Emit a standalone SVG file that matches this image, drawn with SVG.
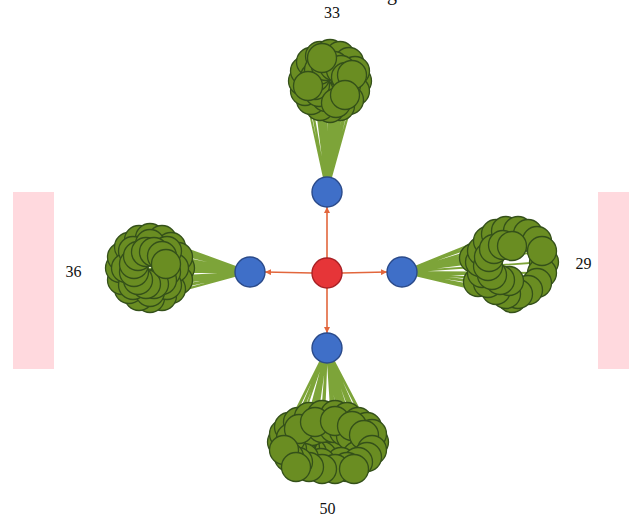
<svg xmlns="http://www.w3.org/2000/svg" xmlns:xlink="http://www.w3.org/1999/xlink" width="629" height="518" viewBox="0 0 629 518">
<style>
.lbl{font-family:"Liberation Serif","Times New Roman",serif;font-size:16px;fill:#111;text-anchor:middle}
.band{fill:#ffd9de}
.ge{fill:none;stroke:#6f9a24;stroke-width:1.8;stroke-opacity:.9}
.re{stroke:#e2663c;stroke-width:1.6;fill:none}
.blue{fill:#3f6fc8;stroke:#2a4a8a;stroke-width:1.4}
.red{fill:#e63538;stroke:#a82024;stroke-width:1.4}
.leaf use{fill:#6a8d22;stroke:#34501a;stroke-width:1.3}
</style>
<defs>
<circle id="lf" r="14.5"/>
<marker id="ah" markerWidth="6" markerHeight="6" refX="6" refY="3" orient="auto" markerUnits="userSpaceOnUse">
<path d="M0,0L6,3L0,6z" fill="#e2663c"/>
</marker>
</defs>
<rect width="629" height="518" fill="#fff"/>
<text class="lbl" x="392" y="0" style="font-size:20px">g</text>
<rect class="band" x="13" y="192" width="41" height="177"/>
<rect class="band" x="598" y="192" width="31" height="177"/>
<g id="connectors">
<path class="ge" d="M327 192L357 81M327 192L355 91M327 192L349 100M327 192L340 106M327 192L330 108M327 192L320 106M327 192L311 100M327 192L305 91M327 192L303 81M327 192L305 71M327 192L311 62M327 192L320 56M327 192L330 54M327 192L340 56M327 192L349 62M327 192L355 71M327 192L346 85M327 192L341 92M327 192L334 97M327 192L326 97M327 192L319 92M327 192L315 85M327 192L315 77M327 192L319 70M327 192L326 66M327 192L334 66M327 192L341 70M327 192L346 77M327 192L352 75M327 192L308 86M327 192L336 103M327 192L322 58M327 192L345 95"/>
<path class="ge" d="M250 272L180 268M250 272L178 280M250 272L171 289M250 272L162 296M250 272L150 298M250 272L139 296M250 272L129 289M250 272L122 280M250 272L120 268M250 272L122 257M250 272L129 247M250 272L139 240M250 272L150 238M250 272L162 240M250 272L171 247M250 272L178 257M250 272L166 272M250 272L162 280M250 272L154 284M250 272L146 284M250 272L138 280M250 272L134 272M250 272L134 264M250 272L138 256M250 272L146 252M250 272L154 252M250 272L162 256M250 272L166 264M250 272L174 268M250 272L167 285M250 272L150 292M250 272L133 285M250 272L126 268M250 272L133 251M250 272L150 244M250 272L167 251"/>
<path class="ge" d="M402 272L544 262M402 272L542 273M402 272L537 283M402 272L528 290M402 272L518 294M402 272L506 294M402 272L496 290M402 272L488 283M402 272L482 273M402 272L480 262M402 272L482 251M402 272L488 241M402 272L496 234M402 272L506 231M402 272L518 231M402 272L528 234M402 272L537 241M402 272L542 251M402 272L509 281M402 272L500 280M402 272L492 275M402 272L488 266M402 272L489 257M402 272L494 249M402 272L503 245M402 272L512 246M402 272L474 258M402 272L478 282M402 272L512 298"/>
<path class="ge" d="M327 348L374 442M327 348L372 450M327 348L367 457M327 348L358 462M327 348L347 467M327 348L335 469M327 348L322 469M327 348L309 467M327 348L298 462M327 348L289 457M327 348L284 450M327 348L282 442M327 348L284 434M327 348L289 427M327 348L298 422M327 348L309 417M327 348L322 415M327 348L335 415M327 348L347 417M327 348L358 422M327 348L367 427M327 348L372 434M327 348L354 442M327 348L351 448M327 348L344 453M327 348L334 456M327 348L322 456M327 348L312 453M327 348L305 448M327 348L302 442M327 348L305 436M327 348L312 431M327 348L322 428M327 348L334 428M327 348L344 431M327 348L351 436M327 348L365 446M327 348L357 456M327 348L341 462M327 348L321 463M327 348L304 458M327 348L292 449M327 348L291 438M327 348L299 429M327 348L315 422M327 348L335 421M327 348L352 426M327 348L364 435M327 348L296 467M327 348L354 469"/>
<line class="re" x1="327" y1="258" x2="327" y2="207" marker-end="url(#ah)"/>
<line class="re" x1="312" y1="273" x2="265" y2="272" marker-end="url(#ah)"/>
<line class="re" x1="342" y1="273" x2="387" y2="272" marker-end="url(#ah)"/>
<line class="re" x1="327" y1="288" x2="327" y2="333" marker-end="url(#ah)"/>
</g>
<g id="cluster33" class="leaf">
<use href="#lf" x="357" y="81"/><use href="#lf" x="355" y="91"/><use href="#lf" x="349" y="100"/><use href="#lf" x="340" y="106"/><use href="#lf" x="330" y="108"/><use href="#lf" x="320" y="106"/><use href="#lf" x="311" y="100"/><use href="#lf" x="305" y="91"/><use href="#lf" x="303" y="81"/><use href="#lf" x="305" y="71"/><use href="#lf" x="311" y="62"/><use href="#lf" x="320" y="56"/><use href="#lf" x="330" y="54"/><use href="#lf" x="340" y="56"/><use href="#lf" x="349" y="62"/><use href="#lf" x="355" y="71"/>
<use href="#lf" x="346" y="85"/><use href="#lf" x="341" y="92"/><use href="#lf" x="334" y="97"/><use href="#lf" x="326" y="97"/><use href="#lf" x="319" y="92"/><use href="#lf" x="315" y="85"/><use href="#lf" x="315" y="77"/><use href="#lf" x="319" y="70"/><use href="#lf" x="326" y="66"/><use href="#lf" x="334" y="66"/><use href="#lf" x="341" y="70"/><use href="#lf" x="346" y="77"/>
<use href="#lf" x="352" y="75"/><use href="#lf" x="308" y="86"/><use href="#lf" x="336" y="103"/><use href="#lf" x="322" y="58"/><use href="#lf" x="345" y="95"/>
</g>
<g id="cluster36" class="leaf">
<use href="#lf" x="180" y="268"/><use href="#lf" x="178" y="280"/><use href="#lf" x="171" y="289"/><use href="#lf" x="162" y="296"/><use href="#lf" x="150" y="298"/><use href="#lf" x="139" y="296"/><use href="#lf" x="129" y="289"/><use href="#lf" x="122" y="280"/><use href="#lf" x="120" y="268"/><use href="#lf" x="122" y="257"/><use href="#lf" x="129" y="247"/><use href="#lf" x="139" y="240"/><use href="#lf" x="150" y="238"/><use href="#lf" x="162" y="240"/><use href="#lf" x="171" y="247"/><use href="#lf" x="178" y="257"/>
<use href="#lf" x="174" y="268"/><use href="#lf" x="167" y="285"/><use href="#lf" x="150" y="292"/><use href="#lf" x="133" y="285"/><use href="#lf" x="126" y="268"/><use href="#lf" x="133" y="251"/><use href="#lf" x="150" y="244"/><use href="#lf" x="167" y="251"/>
<use href="#lf" x="166" y="272"/><use href="#lf" x="162" y="280"/><use href="#lf" x="154" y="284"/><use href="#lf" x="146" y="284"/><use href="#lf" x="138" y="280"/><use href="#lf" x="134" y="272"/><use href="#lf" x="134" y="264"/><use href="#lf" x="138" y="256"/><use href="#lf" x="146" y="252"/><use href="#lf" x="154" y="252"/><use href="#lf" x="162" y="256"/><use href="#lf" x="166" y="264"/>
</g>
<g id="cluster29" class="leaf">
<use href="#lf" x="474" y="258"/><use href="#lf" x="478" y="282"/><use href="#lf" x="512" y="298"/>
<use href="#lf" x="544" y="262"/><use href="#lf" x="542" y="273"/><use href="#lf" x="537" y="283"/><use href="#lf" x="528" y="290"/><use href="#lf" x="518" y="294"/><use href="#lf" x="506" y="294"/><use href="#lf" x="496" y="290"/><use href="#lf" x="488" y="283"/><use href="#lf" x="482" y="273"/><use href="#lf" x="480" y="262"/><use href="#lf" x="482" y="251"/><use href="#lf" x="488" y="241"/><use href="#lf" x="496" y="234"/><use href="#lf" x="506" y="231"/><use href="#lf" x="518" y="231"/><use href="#lf" x="528" y="234"/><use href="#lf" x="537" y="241"/><use href="#lf" x="542" y="251"/>
<use href="#lf" x="509" y="281"/><use href="#lf" x="500" y="280"/><use href="#lf" x="492" y="275"/><use href="#lf" x="488" y="266"/><use href="#lf" x="489" y="257"/><use href="#lf" x="494" y="249"/><use href="#lf" x="503" y="245"/><use href="#lf" x="512" y="246"/>
</g>
<g id="cluster50" class="leaf">
<use href="#lf" x="374" y="442"/><use href="#lf" x="282" y="442"/><use href="#lf" x="284" y="434"/><use href="#lf" x="289" y="427"/><use href="#lf" x="298" y="422"/><use href="#lf" x="309" y="417"/><use href="#lf" x="322" y="415"/><use href="#lf" x="335" y="415"/><use href="#lf" x="347" y="417"/><use href="#lf" x="358" y="422"/><use href="#lf" x="367" y="427"/><use href="#lf" x="372" y="434"/>
<use href="#lf" x="354" y="442"/><use href="#lf" x="351" y="448"/><use href="#lf" x="344" y="453"/><use href="#lf" x="334" y="456"/><use href="#lf" x="322" y="456"/><use href="#lf" x="312" y="453"/><use href="#lf" x="305" y="448"/><use href="#lf" x="302" y="442"/><use href="#lf" x="305" y="436"/><use href="#lf" x="312" y="431"/><use href="#lf" x="322" y="428"/><use href="#lf" x="334" y="428"/><use href="#lf" x="344" y="431"/><use href="#lf" x="351" y="436"/>
<use href="#lf" x="365" y="446"/><use href="#lf" x="357" y="456"/><use href="#lf" x="341" y="462"/><use href="#lf" x="321" y="463"/><use href="#lf" x="304" y="458"/><use href="#lf" x="292" y="449"/><use href="#lf" x="291" y="438"/><use href="#lf" x="299" y="429"/><use href="#lf" x="315" y="422"/><use href="#lf" x="335" y="421"/><use href="#lf" x="352" y="426"/><use href="#lf" x="364" y="435"/>
<use href="#lf" x="372" y="450"/><use href="#lf" x="367" y="457"/><use href="#lf" x="358" y="462"/><use href="#lf" x="347" y="467"/><use href="#lf" x="335" y="469"/><use href="#lf" x="322" y="469"/><use href="#lf" x="309" y="467"/><use href="#lf" x="298" y="462"/><use href="#lf" x="289" y="457"/><use href="#lf" x="284" y="450"/><use href="#lf" x="296" y="467"/><use href="#lf" x="354" y="469"/>
</g>
<g id="hubTop"><circle class="blue" cx="327" cy="192" r="15"/></g>
<g id="hubLeft"><circle class="blue" cx="250" cy="272" r="15"/></g>
<g id="hubRight"><circle class="blue" cx="402" cy="272" r="15"/></g>
<g id="hubBottom"><circle class="blue" cx="327" cy="348" r="15"/></g>
<g id="root"><circle class="red" cx="327" cy="273" r="15"/></g>
<g id="labels">
<text class="lbl" x="332" y="18">33</text>
<text class="lbl" x="73.5" y="277">36</text>
<text class="lbl" x="583.5" y="269">29</text>
<text class="lbl" x="327.5" y="514">50</text>
</g>
</svg>
